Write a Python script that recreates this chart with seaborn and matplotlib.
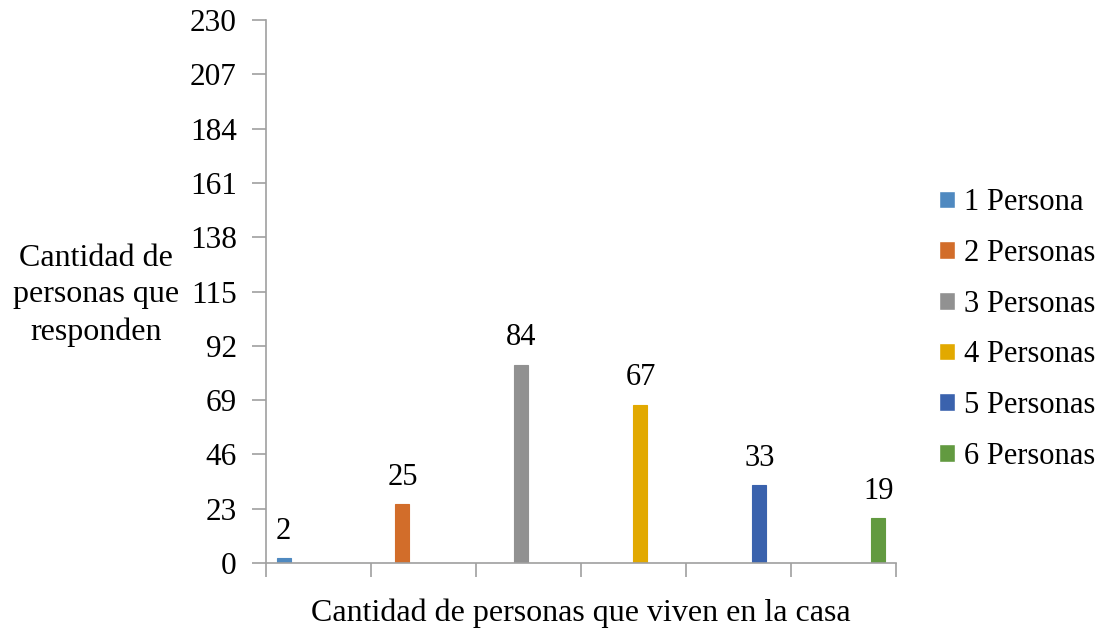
import pandas as pd
import matplotlib.pyplot as plt
import seaborn as sns

sns.set_style("white")
plt.rcParams['font.family'] = ['Liberation Serif', 'DejaVu Serif']
plt.rcParams['text.color'] = 'black'
plt.rcParams['ytick.labelcolor'] = 'black'
plt.rcParams['axes.labelcolor'] = 'black'

# data
categorias = ["1 Persona", "2 Personas", "3 Personas", "4 Personas", "5 Personas", "6 Personas"]
valores = [2, 25, 84, 67, 33, 19]
colores = ["#4F89C0", "#D26D2A", "#919191", "#E2A900", "#3A62AD", "#629A40"]
y_ticks = [0, 23, 46, 69, 92, 115, 138, 161, 184, 207, 230]

# one group per category, each series only has a value in its own group
rows = []
for i, grupo in enumerate(categorias):
    for j, serie in enumerate(categorias):
        rows.append({"grupo": grupo, "serie": serie, "valor": valores[j] if i == j else 0})
df = pd.DataFrame(rows)

fig = plt.figure(figsize=(11.07, 6.32), dpi=100)
ax = fig.add_axes([0.2403, 0.109, 0.569, 0.8595])

sns.barplot(data=df, x="grupo", y="valor", hue="serie", palette=colores,
            width=0.8, dodge=True, ax=ax, legend=True, saturation=1)

# slightly fatter bars, like the original
for cont in ax.containers:
    for b in cont:
        b.set_edgecolor(b.get_facecolor())
        b.set_linewidth(0.8)

# data labels only on the non-zero bars
for cont, v in zip(ax.containers, valores):
    labels = [str(v) if b.get_height() > 0 else "" for b in cont]
    ax.bar_label(cont, labels=labels, padding=9, fontsize=22)

ax.set_ylim(0, 230)
ax.set_yticks(y_ticks)
ax.set_xlim(-0.5, 5.5)
ax.set_xticks([x - 0.5 for x in range(7)])
ax.set_xticklabels([])
ax.tick_params(axis="y", labelsize=22.5, length=10, width=1.2, color="#A0A0A0", left=True, pad=11)
ax.tick_params(axis="x", length=10, width=1.2, color="#A0A0A0", bottom=True, direction="out")
for side in ["top", "right"]:
    ax.spines[side].set_visible(False)
for side in ["left", "bottom"]:
    ax.spines[side].set_color("#A0A0A0")
    ax.spines[side].set_linewidth(1.2)

ax.set_xlabel("Cantidad de personas que viven en la casa", fontsize=23, labelpad=12)
ax.set_ylabel("")
fig.text(0.087, 0.533, "Cantidad de\npersonas que\nresponden", fontsize=23,
         ha="center", va="center", linespacing=1.35)

leg = ax.legend(loc="center left", bbox_to_anchor=(1.025, 0.43), frameon=False,
                fontsize=22, handlelength=0.52, handleheight=0.52,
                handletextpad=0.3, labelspacing=0.71)

fig.savefig("out.png", dpi=100)
